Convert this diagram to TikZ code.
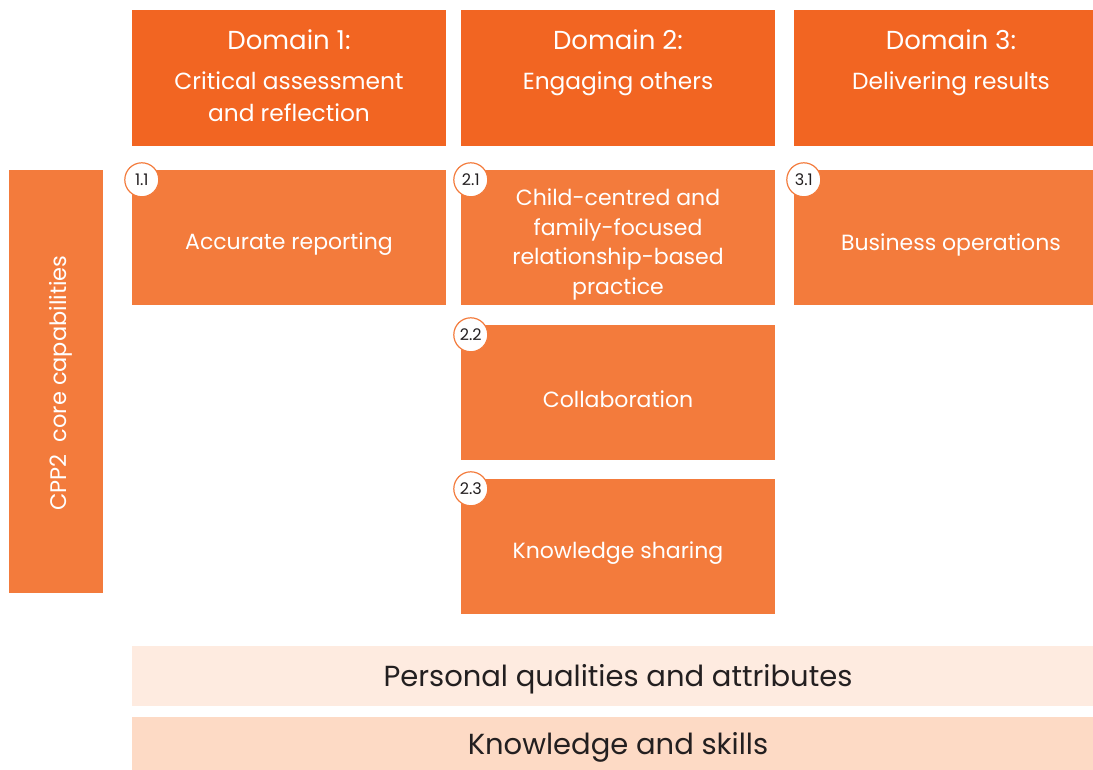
\documentclass[tikz,border=0pt]{standalone}
\usepackage{fontspec}
\setmainfont{Poppins}
\definecolor{hdr}{HTML}{F26522}
\definecolor{capc}{HTML}{F37B3C}
\definecolor{pq}{HTML}{FEEBE0}
\definecolor{ks}{HTML}{FDDAC5}
\definecolor{ink}{HTML}{231F20}
\newcommand{\dtitle}[1]{{\fontsize{26}{26}\selectfont #1}}
\tikzset{
  hdrbox/.style={fill=hdr, draw=none, inner sep=0pt, minimum width=314pt, minimum height=136pt},
  capbox/.style={fill=capc, draw=none, inner sep=0pt, minimum width=314pt, minimum height=135pt},
  captext/.style={text=white, align=center, inner sep=0pt, font=\fontsize{22}{29.5}\selectfont},
  hdrtext/.style={text=white, align=center, anchor=north, inner sep=0pt, font=\fontsize{23.3}{32}\selectfont},
  badge/.style={circle, draw=capc, line width=1.2pt, fill=white, minimum size=34pt, inner sep=0pt,
     text=ink, font=\fontsize{16}{16}\selectfont},
  bandbox/.style={draw=none, inner sep=0pt, minimum width=972pt},
  bandtext/.style={inner sep=0pt, text=ink, font=\fontsize{29}{29}\selectfont}
}
\begin{document}
\begin{tikzpicture}[x=1pt,y=-1pt]
\useasboundingbox (0,0) rectangle (1093,769);
% domain headers
\node[hdrbox] (h1) at (289,78) {};
\node[hdrbox] (h2) at (618,78) {};
\node[hdrbox] (h3) at (951,78) {};
\node[hdrtext] (t1) at (289,29.5) {\dtitle{Domain 1:}\\[8pt]Critical assessment\\and reflection};
\node[hdrtext] (t2) at (618,29.5) {\dtitle{Domain 2:}\\[8pt]Engaging others};
\node[hdrtext] (t3) at (951,29.5) {\dtitle{Domain 3:}\\[8pt]Delivering results};
% side bar
\node[fill=capc, draw=none, minimum width=94pt, minimum height=423pt, inner sep=0pt] (side) at (56,381.5) {};
\node[rotate=90, text=white, font=\fontsize{22.5}{22.5}\selectfont] (sidet) at (61,383) {CPP2\ \ core capabilities};
% capability boxes
\node[capbox] (c11) at (289,237.5) {};
\node[capbox] (c21) at (618,237.5) {};
\node[capbox] (c31) at (951,237.5) {};
\node[capbox] (c22) at (618,392.5) {};
\node[capbox] (c23) at (618,546.5) {};
\node[captext] (x11) at ([yshift=-7]c11.center) {Accurate reporting};
\node[captext] (x21) at ([yshift=-7]c21.center) {Child-centred and\\family-focused\\relationship-based\\practice};
\node[captext] (x31) at ([yshift=-7]c31.center) {Business operations};
\node[captext] (x22) at ([yshift=-7]c22.center) {Collaboration};
\node[captext] (x23) at ([yshift=-7]c23.center) {Knowledge sharing};
% badges
\node[badge] (b11) at ([shift={(10,10)}]c11.north west) {1.1};
\node[badge] (b21) at ([shift={(10,10)}]c21.north west) {2.1};
\node[badge] (b31) at ([shift={(10,10)}]c31.north west) {3.1};
\node[badge] (b22) at ([shift={(10,10)}]c22.north west) {2.2};
\node[badge] (b23) at ([shift={(10,10)}]c23.north west) {2.3};
% bands
\node[bandbox, fill=pq, minimum height=60pt] (pqb) at (618,676) {};
\node[bandbox, fill=ks, minimum height=54pt] (ksb) at (618,744) {};
\node[bandtext] (pqt) at ([yshift=-3]pqb.center) {Personal qualities and attributes};
\node[bandtext] (kst) at ([yshift=-3]ksb.center) {Knowledge and skills};
\end{tikzpicture}
\end{document}
